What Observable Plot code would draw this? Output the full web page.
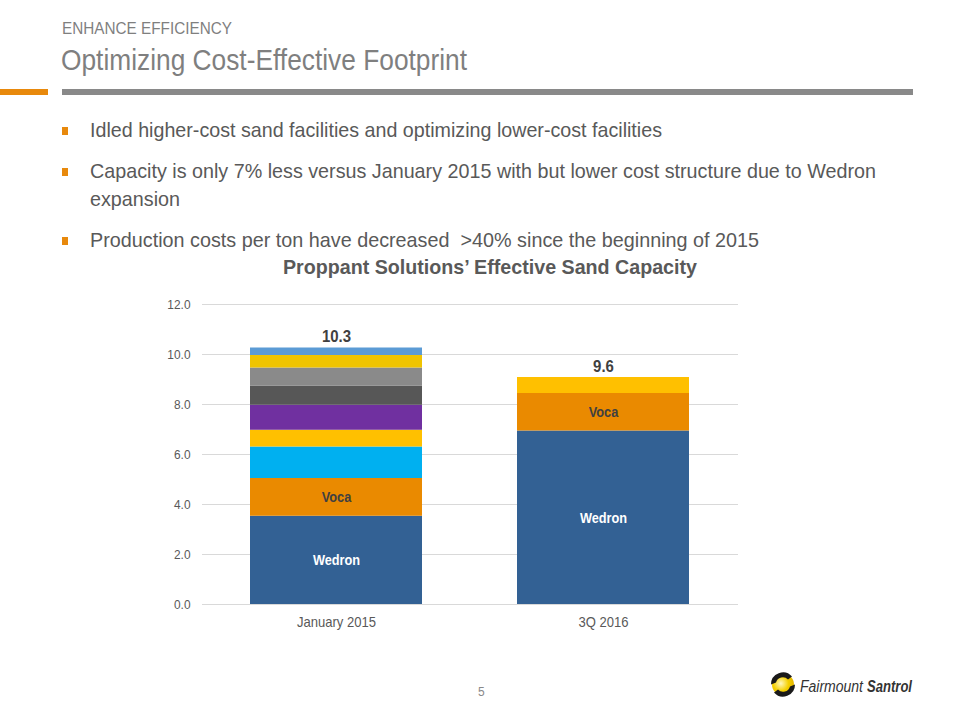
<!DOCTYPE html>
<html>
<head>
<meta charset="utf-8">
<script src="https://cdn.jsdelivr.net/npm/d3@7"></script>
<script src="https://cdn.jsdelivr.net/npm/@observablehq/plot@0.6"></script>
<style>
  html, body { margin: 0; padding: 0; background: #fff; }
  body { width: 960px; height: 720px; position: relative; overflow: hidden;
         font-family: "Liberation Sans", Arial, sans-serif; }
  .abs { position: absolute; white-space: nowrap; }
  .fit { transform-origin: 0 0; }
  #kicker { left: 62px; top: 19px; font-size: 17px; color: #7f7f7f; }
  #title { left: 61px; top: 43px; font-size: 30px; color: #7f7f7f; }
  #rule-o { left: 0; top: 89px; width: 48px; height: 6px; background: #e8890c; }
  #rule-g { left: 62px; top: 89px; width: 851px; height: 6px; background: #898989; }
  .bullet { left: 62px; width: 6px; height: 8px; background: #e8890c; }
  .btext { left: 90px; font-size: 21px; color: #595959; }
  #ctitle { left: 283px; top: 255px; font-size: 21px; font-weight: bold; color: #595959; }
  #chart { left: 0; top: 280px; }
  #pnum { left: 478px; top: 685px; font-size: 12px; color: #898989; }
  #logo { left: 760px; top: 665px; }
</style>
</head>
<body>
<div class="abs fit" id="kicker" data-w="170">ENHANCE EFFICIENCY</div>
<div class="abs fit" id="title" data-w="406">Optimizing Cost-Effective Footprint</div>
<div class="abs" id="rule-o"></div>
<div class="abs" id="rule-g"></div>

<div class="abs bullet" style="top:127px"></div>
<div class="abs btext fit" style="top:118px" data-w="572">Idled higher-cost sand facilities and optimizing lower-cost facilities</div>
<div class="abs bullet" style="top:168px"></div>
<div class="abs btext fit" style="top:159px" data-w="786">Capacity is only 7% less versus January 2015 with but lower cost structure due to Wedron</div>
<div class="abs btext fit" style="top:187px" data-w="90">expansion</div>
<div class="abs bullet" style="top:237px"></div>
<div class="abs btext fit" style="top:228px" data-w="669">Production costs per ton have decreased &nbsp;&gt;40% since the beginning of 2015</div>

<div class="abs fit" id="ctitle" data-w="414">Proppant Solutions’ Effective Sand Capacity</div>
<div class="abs" id="chart"></div>
<div class="abs" id="pnum">5</div>

<div class="abs" id="logo">
  <svg width="190" height="45" viewBox="0 0 190 45">
    <defs>
      <radialGradient id="yg" cx="0.4" cy="0.45" r="0.7">
        <stop offset="0" stop-color="#fff8c0"/>
        <stop offset="0.5" stop-color="#f5d000"/>
        <stop offset="1" stop-color="#d9a800"/>
      </radialGradient>
    </defs>
    <circle cx="23" cy="19.5" r="11" fill="url(#yg)"/>
    <path d="M 11 19.5 A 12 12 0 0 1 32 11.5 L 28 14.5 A 7 7 0 0 0 16 17.5 Z" fill="#1a1a1a"/>
    <path d="M 35 19.5 A 12 12 0 0 1 14 27.5 L 18 24.5 A 7 7 0 0 0 30 21.5 Z" fill="#1a1a1a"/>
    <text x="40" y="26.5" font-family="'Liberation Sans', sans-serif" font-style="italic" font-size="16" fill="#333333" textLength="63" lengthAdjust="spacingAndGlyphs">Fairmount</text>
    <text x="107" y="26.5" font-family="'Liberation Sans', sans-serif" font-style="italic" font-weight="bold" font-size="16" fill="#333333" textLength="45" lengthAdjust="spacingAndGlyphs">Santrol</text>
  </svg>
</div>

<script>
const periods = ["January 2015", "3Q 2016"];
const segments = ["Wedron", "Voca", "Facility 3", "Facility 4", "Facility 5", "Facility 6", "Facility 7", "Facility 8", "Facility 9"];
const segmentColors = ["#336194", "#ea8a00", "#00b0f0", "#ffc000", "#7030a0", "#575757", "#8a8a8a", "#f0c400", "#5b9bd5"];
const jan2015Values = [3.53, 1.51, 1.26, 0.67, 1.00, 0.77, 0.72, 0.50, 0.30];
const q3_2016Values = [6.94, 1.50, 0, 0.64, 0, 0, 0, 0, 0];
const totalLabels = ["10.3", "9.6"];
const segmentLabels = ["Wedron", "Voca"];
const yTicks = [0, 2, 4, 6, 8, 10, 12];

const seriesByPeriod = [jan2015Values, q3_2016Values];
const rows = [];
periods.forEach((p, pi) => {
  let cum = 0;
  segments.forEach((s, si) => {
    const v = seriesByPeriod[pi][si];
    if (v > 0) {
      rows.push({period: p, segment: s, value: v, mid: cum + v / 2,
                 label: segmentLabels.includes(s) ? s : ""});
    }
    cum += v;
  });
});
const totals = periods.map((p, pi) => ({
  period: p,
  total: d3.sum(seriesByPeriod[pi]),
  label: totalLabels[pi]
}));

const font = '"Liberation Sans", Arial, sans-serif';

const chart = Plot.plot({
  width: 960,
  height: 365,
  marginTop: 24,
  marginBottom: 41,
  marginLeft: 202,
  marginRight: 222,
  style: {fontFamily: font, background: "transparent", overflow: "visible"},
  x: {domain: periods, paddingInner: 0.354, paddingOuter: 0.178, label: null, tickSize: 0, tickPadding: 12},
  y: {domain: [0, 12], ticks: yTicks, tickFormat: d => d.toFixed(1), label: null, tickSize: 0, tickPadding: 12},
  color: {domain: segments, range: segmentColors},
  marks: [
    Plot.gridY(yTicks, {stroke: "#d9d9d9", strokeOpacity: 1, strokeWidth: 1}),
    Plot.barY(rows, Plot.stackY({order: null}, {x: "period", y: "value", fill: "segment"})),
    Plot.text(rows.filter(d => d.label), {
      x: "period", y: "mid", text: "label",
      fill: d => d.segment === "Wedron" ? "#ffffff" : "#404040",
      fontSize: 15, fontWeight: "bold", className: "narrow-bar"
    }),
    Plot.text(totals, {x: "period", y: "total", text: "label", dy: -11,
      fill: "#404040", fontSize: 17, fontWeight: "bold", className: "narrow-total"}),
    Plot.axisY({ticks: yTicks, tickFormat: d => d.toFixed(1), tickSize: 0, tickPadding: 12,
      fontSize: 12.5, color: "#595959", className: "narrow-y"}),
    Plot.axisX({tickSize: 0, tickPadding: 12, fontSize: 15, color: "#595959", className: "narrow-x"})
  ]
});
document.getElementById("chart").appendChild(chart);

// Narrow-font emulation: compress SVG texts horizontally
const factors = {"narrow-bar": 0.85, "narrow-total": 0.88, "narrow-y": 0.95, "narrow-x": 0.87};
Object.entries(factors).forEach(([cls, f]) => {
  chart.querySelectorAll(`.${cls} text`).forEach(t => {
    const len = t.getComputedTextLength();
    if (len > 0) {
      t.setAttribute("textLength", (len * f).toFixed(2));
      t.setAttribute("lengthAdjust", "spacingAndGlyphs");
    }
  });
});
// Fit HTML texts to the widths measured on the reference
document.querySelectorAll(".fit").forEach(el => {
  const target = +el.dataset.w;
  const w = el.getBoundingClientRect().width;
  if (w > 0) el.style.transform = `scaleX(${target / w})`;
});
</script>
</body>
</html>
